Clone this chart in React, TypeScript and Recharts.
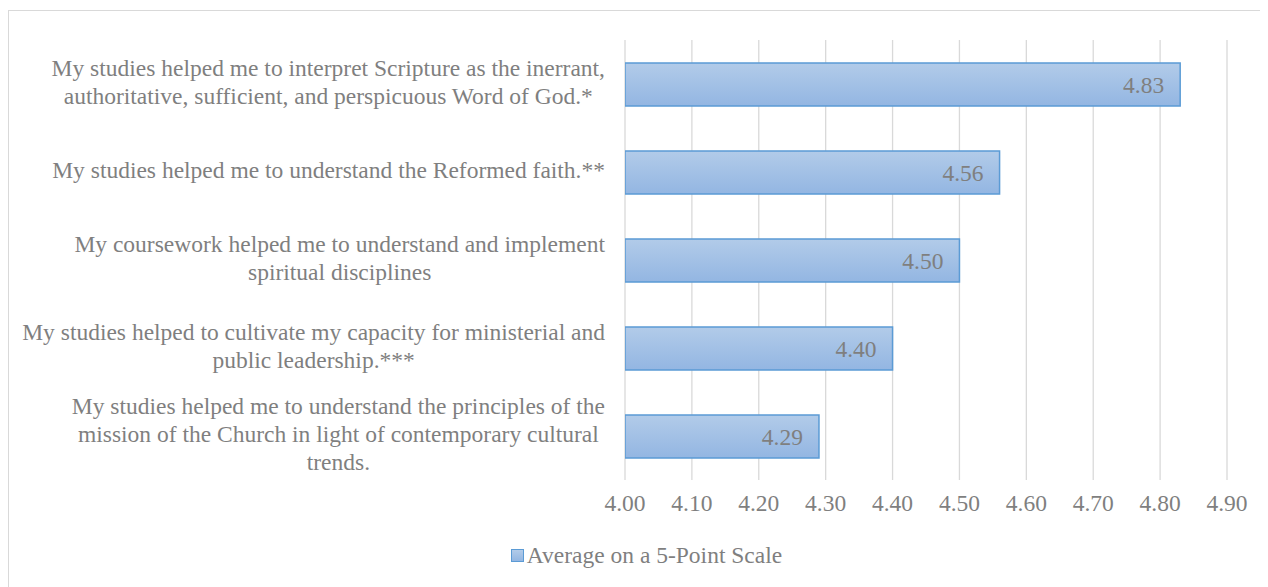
import React from "react";
import { BarChart, Bar, XAxis, YAxis, CartesianGrid, LabelList } from "recharts";

const categories = [
  "My studies helped me to interpret Scripture as the inerrant,\nauthoritative, sufficient, and perspicuous Word of God.*",
  "My studies helped me to understand the Reformed faith.**",
  "My coursework helped me to understand and implement\nspiritual disciplines",
  "My studies helped to cultivate my capacity for ministerial and\npublic leadership.***",
  "My studies helped me to understand the principles of the\nmission of the Church in light of contemporary cultural\ntrends.",
];
const averages = [4.83, 4.56, 4.5, 4.4, 4.29];
const xTicks = [4.0, 4.1, 4.2, 4.3, 4.4, 4.5, 4.6, 4.7, 4.8, 4.9];
const seriesName = "Average on a 5-Point Scale";

const data = categories.map((c, i) => ({ category: c, value: averages[i] }));

const FONT = '"Liberation Serif", serif';
const FS = 23.5;
const GRAY = "#7f7f7f";

let ctx: CanvasRenderingContext2D | null = null;
function measure(s: string): number {
  if (!ctx) {
    const c = document.createElement("canvas");
    ctx = c.getContext("2d");
  }
  if (!ctx) return s.length * FS * 0.42;
  ctx.font = `${FS}px ${FONT}`;
  return ctx.measureText(s).width;
}

const CategoryTick = (props: any) => {
  const { x, y, payload } = props;
  const lines = String(payload.value).split("\n");
  const lh = 28;
  const maxW = Math.max(...lines.map(measure));
  const cx = x - maxW / 2;
  const startY = y - ((lines.length - 1) * lh) / 2;
  return (
    <text textAnchor="middle" fill={GRAY} style={{ fontSize: FS, fontFamily: FONT }}>
      {lines.map((l, i) => (
        <tspan key={i} x={cx} y={startY + i * lh} dy="0.25em">
          {l}
        </tspan>
      ))}
    </text>
  );
};

export default function App() {
  return (
    <div
      style={{
        position: "relative",
        marginTop: 2,
        width: 1264,
        height: 580,
        border: "1px solid #d9d9d9",
        boxSizing: "border-box",
        background: "#fff",
        fontFamily: FONT,
      }}
    >
      <BarChart
        layout="vertical"
        width={1260}
        height={575}
        data={data}
        margin={{ top: 29, right: 42, left: 0, bottom: 66 }}
        style={{ fontFamily: FONT }}
      >
        <defs>
          <linearGradient id="barGrad" x1="0" y1="0" x2="0" y2="1">
            <stop offset="0%" stopColor="#b2cbe9" />
            <stop offset="100%" stopColor="#93b6e2" />
          </linearGradient>
        </defs>
        <CartesianGrid horizontal={false} stroke="#d9d9d9" strokeWidth={1.3} />
        <XAxis
          type="number"
          domain={[4.0, 4.9]}
          ticks={xTicks}
          tickFormatter={(v: number) => v.toFixed(2)}
          axisLine={false}
          tickLine={false}
          height={40}
          tickMargin={8}
          tick={{ fill: GRAY, fontSize: FS, fontFamily: FONT }}
          allowDataOverflow
        />
        <YAxis
          type="category"
          dataKey="category"
          width={616}
          axisLine={false}
          tickLine={false}
          tickMargin={14}
          tick={<CategoryTick />}
          interval={0}
        />
        <Bar
          dataKey="value"
          name={seriesName}
          fill="url(#barGrad)"
          stroke="#5b9bd5"
          strokeWidth={1.5}
          barSize={43}
          isAnimationActive={false}
        >
          <LabelList
            dataKey="value"
            position="insideRight"
            offset={16}
            formatter={(v: any) => Number(v).toFixed(2)}
            style={{ fill: GRAY, fontSize: FS, fontFamily: FONT }}
          />
        </Bar>
      </BarChart>
      <div
        style={{
          position: "absolute",
          left: 0,
          top: 532,
          width: 1275,
          display: "flex",
          justifyContent: "center",
          alignItems: "center",
          fontFamily: FONT,
          fontSize: FS,
          color: GRAY,
          lineHeight: "24px",
        }}
      >
        <span
          style={{
            display: "inline-block",
            width: 11,
            height: 11,
            background: "linear-gradient(#b2cbe9, #93b6e2)",
            border: "1.5px solid #5b9bd5",
            marginRight: 3,
          }}
        />
        <span>{seriesName}</span>
      </div>
    </div>
  );
}
